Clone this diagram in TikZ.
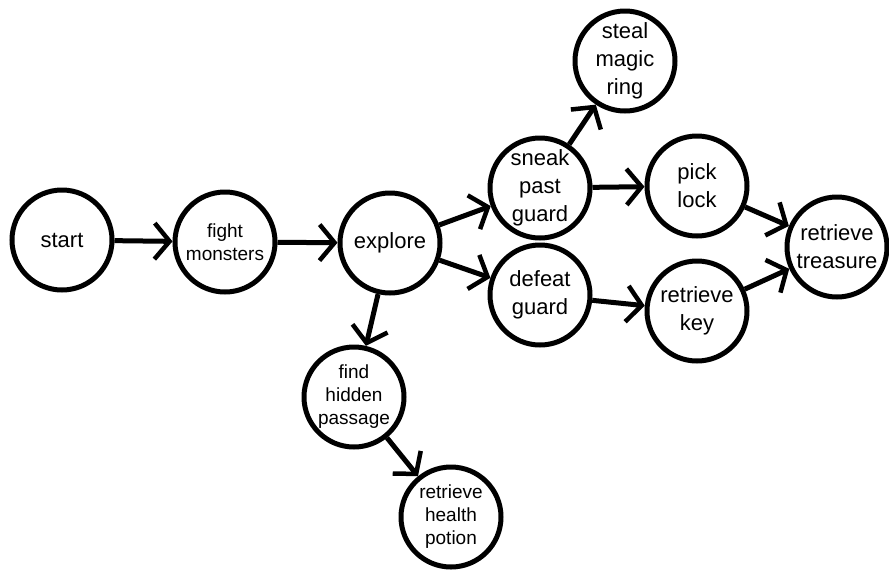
\documentclass[tikz,border=0pt]{standalone}
\usepackage{fontspec}
\setmainfont{Liberation Sans}
\usetikzlibrary{arrows.meta}
\begin{document}
\begin{tikzpicture}[x=1pt,y=-1pt,
  st/.style={circle,draw,line width=5pt,minimum size=100pt,inner sep=0pt,align=center,
    font=\fontsize{22pt}{28pt}\selectfont},
  sm/.style={st,font=\fontsize{19pt}{23pt}\selectfont},
  arr/.style={line width=5pt,-{Straight Barb[length=15pt,width=36pt,line width=4.5pt,line cap=butt]}}]
\useasboundingbox (0,0) rectangle (889,574);
\node[st] (start) at (62,240) {start};
\node[sm] (fight) at (225,242) {fight\\monsters};
\node[st] (explore) at (390,243) {explore};
\node[st] (sneak) at (540,188) {sneak\\past\\guard};
\node[st] (defeat) at (540,295) {defeat\\guard};
\node[st] (steal) at (625,61) {steal\\magic\\ring};
\node[st] (pick) at (697,186) {pick\\lock};
\node[st] (key) at (697,311) {retrieve\\key};
\node[st] (treasure) at (837,247) {retrieve\\treasure};
\node[sm] (find) at (354,397) {find\\hidden\\passage};
\node[sm] (potion) at (451,517) {retrieve\\health\\potion};
\draw[arr] (start) -- (fight);
\draw[arr] (fight) -- (explore);
\draw[arr] (explore) -- (sneak);
\draw[arr] (explore) -- (defeat);
\draw[arr] (explore) -- (find);
\draw[arr] (sneak) -- (steal);
\draw[arr] (sneak) -- (pick);
\draw[arr] (defeat) -- (key);
\draw[arr] (pick) -- (treasure);
\draw[arr] (key) -- (treasure);
\draw[arr] (find) -- (potion);
\end{tikzpicture}
\end{document}
